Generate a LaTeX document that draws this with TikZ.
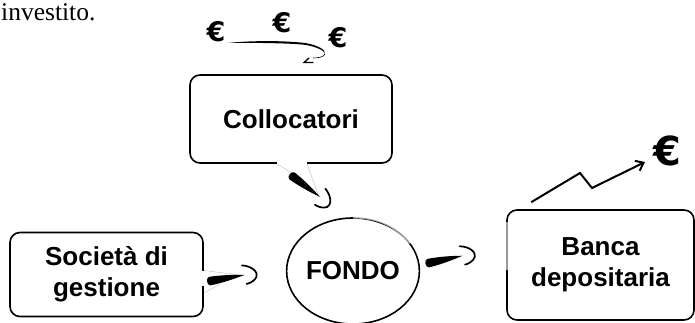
\documentclass[tikz,border=0pt]{standalone}
\usepackage{fontspec}
\setmainfont{Liberation Serif}
\setsansfont{Liberation Sans}
\newfontfamily\eurofam{DejaVu Sans}
\usetikzlibrary{shapes.geometric,arrows.meta,calc}
\newcommand\boxfont{\fontsize{26}{31}\selectfont\sffamily\bfseries}
\newcommand\eurofont{\fontsize{27}{29}\selectfont\eurofam\bfseries}
\tikzset{
  box/.style={draw, line width=1.6pt, rounded corners=10pt, align=center,
    font=\boxfont, inner sep=0pt},
  faint/.style={draw=gray!45, line width=0.5pt},
  gapfill/.style={draw=white, line width=2.8pt},
  fadeout/.style={draw=white, opacity=0.6, line width=2.6pt},
  euro/.style={font=\eurofont, inner sep=0pt},
  brush/.pic={
    \fill (0,-4.2) .. controls (-3.5,-4.2) and (-4,4) .. (0,4.4)
      .. controls (12,3.8) and (26,1) .. (35,-1.2)
      .. controls (26,-2.8) and (12,-4.4) .. (0,-4.2) -- cycle;
    \draw[line width=1.7pt, line cap=round] (34,-11)
      .. controls (44,-9) and (49,-2) .. (47,2)
      .. controls (45,6) and (39,8) .. (36,8);
  }
}
\begin{document}
\begin{tikzpicture}[x=1pt,y=-1pt]
\useasboundingbox (0,0) rectangle (695,323);

% top-left text fragment
\node[anchor=base west, inner sep=0pt, text height=16pt,
      font=\fontsize{25.5}{30}\selectfont] (inv) at (1,21) {investito.};

% boxes
\node[box, minimum width=202pt, minimum height=88pt] (coll) at (291,119) {Collocatori};
\node[box, minimum width=193pt, minimum height=84pt] (soc) at (106.5,274.5) {Società di\\gestione};
\node[box, minimum width=187pt, minimum height=110pt] (banca) at (600.5,265) {Banca\\depositaria};
\node[draw, ellipse, line width=1.6pt, minimum width=120pt, minimum height=106pt,
      inner sep=0pt, font=\boxfont] (fondo) at (353,271) {FONDO};

% gaps in bubble borders and faint parts
\draw[gapfill] ($(coll.south)+(-14,0)$) -- ($(coll.south)+(16,0)$);
\draw[gapfill] ($(soc.east)+(0,-4)$) -- ($(soc.east)+(0,11)$);
\draw[fadeout] ($(banca.west)+(0,-43)$) -- ($(banca.west)+(0,5)$);
\draw[fadeout] (fondo.north) .. controls +(33,0) and +(-12,-12) .. ($(fondo.east)+(-10,-28)$);

% faint bubble tails
\draw[faint] ($(coll.south)+(-14,0)$) -- ($(coll.south)+(2,10)$);
\draw[faint] ($(coll.south)+(16,0)$) -- ($(coll.south)+(28,33)$);
\draw[faint] ($(soc.east)+(0,-4)$) -- ($(soc.east)+(40,1)$);
\draw[faint] ($(soc.east)+(1,18)$) -- ($(soc.east)+(16,10)$);

% brush arrows
\pic[rotate=-39] at ($(coll.south)+(1,12)$) {brush};
\pic[rotate=8] at ($(soc.east)+(6,6.5)$) {brush};
\pic[rotate=10] at ($(fondo.east)+(8,-8)$) {brush};

% euros and curl
\node[euro] (e1) at (216,32) {€};
\node[euro] (e2) at (282,23) {€};
\node[euro] (e3) at (338,38) {€};
\coordinate (c0) at ($(e1)+(12,11)$);
\coordinate (c1) at ($(e3)+(-13,16)$);
\fill (c0) .. controls (250,40.5) and (285,40.5) .. (305,43)
  .. controls (318,45) and (326,50) .. (c1)
  .. controls (325,51) and (317,46.8) .. (305,44.8)
  .. controls (285,42.8) and (250,42.8) .. (c0) -- cycle;
\draw[line width=0.6pt] (c1) .. controls (324,57) and (318,58) .. (313,58);
\draw[line width=1.3pt, line cap=round] (309,58) -- (304,62.5) -- (313,62.5);

% rising zigzag
\node[font=\fontsize{40}{42}\selectfont\eurofam\bfseries, inner sep=0pt] (e4) at (667,151) {€};
\coordinate (z0) at ($(banca.north west)+(25,-7)$);
\coordinate (z3) at (645,162);
\draw[line width=2pt, -{Straight Barb[length=7pt,width=11pt]}] (z0) -- (580,173) -- (592,188) -- (z3);
\end{tikzpicture}
\end{document}
